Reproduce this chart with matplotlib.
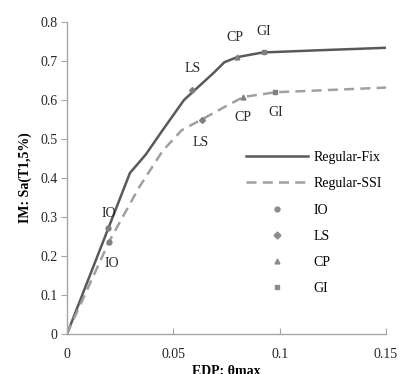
import matplotlib

matplotlib.use("Agg")

import matplotlib.pyplot as plt
from matplotlib.lines import Line2D
from matplotlib.ticker import FuncFormatter

# pushover-like curves
fix_x = [0, 0.0195, 0.0296, 0.037, 0.045, 0.055, 0.062, 0.069, 0.074, 0.080, 0.092, 0.12, 0.15]
fix_y = [0, 0.272, 0.413, 0.46, 0.523, 0.60, 0.635, 0.67, 0.697, 0.710, 0.722, 0.728, 0.734]
ssi_x = [0, 0.0197, 0.034, 0.045, 0.054, 0.064, 0.075, 0.083, 0.098, 0.12, 0.15]
ssi_y = [0, 0.236, 0.377, 0.47, 0.523, 0.552, 0.585, 0.608, 0.62, 0.625, 0.632]

# performance points (x, y) for each limit state
states = ["IO", "LS", "CP", "GI"]
markers = ["o", "D", "^", "s"]
fix_pts = [(0.0195, 0.272), (0.059, 0.626), (0.080, 0.710), (0.0925, 0.722)]
ssi_pts = [(0.0197, 0.236), (0.0634, 0.549), (0.0827, 0.608), (0.098, 0.620)]
fix_lbl = [(0.0195, 0.31), (0.059, 0.68), (0.079, 0.76), (0.0925, 0.775)]
ssi_lbl = [(0.021, 0.18), (0.063, 0.49), (0.0826, 0.556), (0.098, 0.567)]

plt.rcParams.update({"font.family": "Liberation Serif", "font.size": 10})

fig = plt.figure(figsize=(4.0, 3.74), dpi=100)
ax = fig.add_axes([0.1675, 0.107, 0.7975, 0.834])

ax.plot(fix_x, fix_y, color="#595959", lw=1.8, solid_capstyle="butt")
ax.plot(ssi_x, ssi_y, color="#a0a0a0", lw=1.8, ls=(0, (4, 2.5)))

for st, mk, p, q, lp, lq in zip(states, markers, fix_pts, ssi_pts, fix_lbl, ssi_lbl):
    ms = 3.5 if mk != "D" else 3
    ax.plot(*p, marker=mk, ms=ms, color="#7f7f7f", ls="none")
    ax.plot(*q, marker=mk, ms=ms, color="#7f7f7f", ls="none")
    ax.text(*lp, st, ha="center", va="center", fontsize=10, color="#262626")
    ax.text(*lq, st, ha="center", va="center", fontsize=10, color="#262626")

handles = [
    Line2D([], [], color="#595959", lw=1.8),
    Line2D([], [], color="#a0a0a0", lw=1.8, ls=(0, (4, 2.5))),
]
labels = ["Regular-Fix", "Regular-SSI"]
for st, mk in zip(states, markers):
    handles.append(Line2D([], [], color="#8c8c8c", marker=mk, ms=3.5, ls="none"))
    labels.append(st)
ax.legend(handles, labels, loc="upper left", bbox_to_anchor=(0.5425, 0.604), frameon=False,
          handlelength=4.5, labelspacing=0.95, handletextpad=0.4, fontsize=10,
          borderaxespad=0)

ax.set_xlim(0, 0.15)
ax.set_ylim(0, 0.8)
ax.set_xticks([0, 0.05, 0.1, 0.15])
ax.set_yticks([0, 0.1, 0.2, 0.3, 0.4, 0.5, 0.6, 0.7, 0.8])
fmt = FuncFormatter(lambda v, _: ("%g" % round(v, 3)))
ax.xaxis.set_major_formatter(fmt)
ax.yaxis.set_major_formatter(fmt)
for s in ["top", "right"]:
    ax.spines[s].set_visible(False)
for s in ["left", "bottom"]:
    ax.spines[s].set_color("#a6a6a6")
    ax.spines[s].set_linewidth(1.0)
ax.tick_params(axis="x", direction="in", length=4, color="#a6a6a6", labelcolor="#262626", pad=10)
ax.tick_params(axis="y", direction="out", length=4, color="#a6a6a6", labelcolor="#262626", pad=3)

ax.set_xlabel("EDP: θmax", fontweight="bold", fontsize=10, labelpad=3)
ax.set_ylabel("IM: Sa(T1,5%)", fontweight="bold", fontsize=10, labelpad=6)

fig.savefig("out.png", dpi=100)
